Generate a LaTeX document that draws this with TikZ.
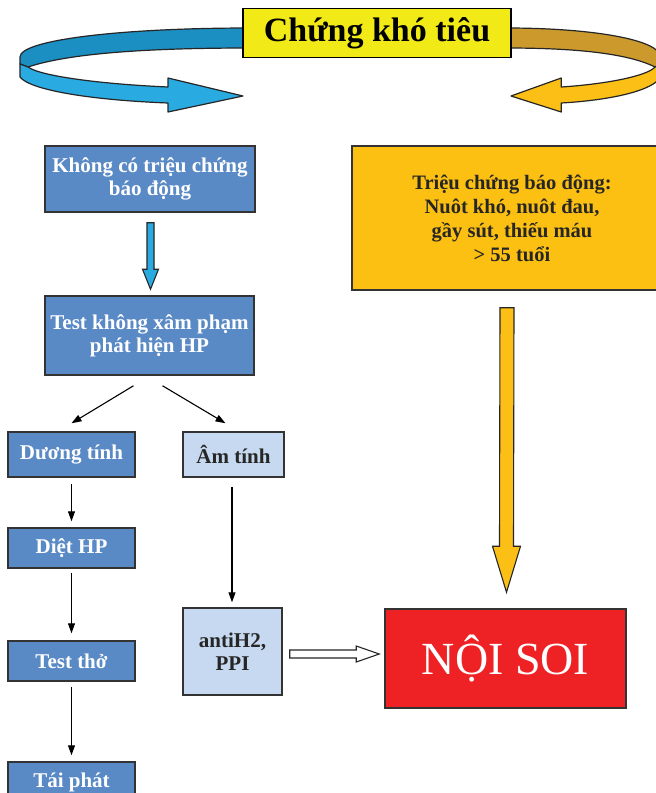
\documentclass[tikz,border=0pt]{standalone}
\usepackage{fontspec}
\setmainfont{Liberation Serif}
\usetikzlibrary{arrows.meta,positioning,calc}
\usepackage{xcolor}

\definecolor{boxblue}{HTML}{5A8AC6}
\definecolor{paleblue}{HTML}{C6D9F0}
\definecolor{alarmyellow}{HTML}{FCC012}
\definecolor{titleyellow}{HTML}{F2EA16}
\definecolor{ribbonblue}{HTML}{29ABE2}
\definecolor{ribbonbluedark}{HTML}{1B8EC2}
\definecolor{ribbongold}{HTML}{FBBF16}
\definecolor{ribbongolddark}{HTML}{CC9A2C}
\definecolor{soired}{HTML}{EE2224}
\definecolor{edgegray}{HTML}{333333}

\begin{document}
\begin{tikzpicture}[x=1pt,y=-1pt,
    stepbox/.style={draw=edgegray,line width=1.5pt,fill=boxblue,text=white,
      font=\bfseries\fontsize{21}{23}\selectfont,align=center,inner sep=0pt},
    palebox/.style={stepbox,fill=paleblue,text=black!85},
    thinarrow/.style={line width=1.1pt,-{Triangle[length=10pt,width=7pt]}},
    blockarrow/.style={draw=black!85,line width=1.1pt,line join=miter},
    ribbon/.style={draw=black!85,line width=1.2pt,line join=round}]
  \useasboundingbox (0,0) rectangle (656,793);

  % curved ribbons round the title
  \fill[white] (0,0) rectangle (656,793);
  \draw[ribbon,fill=ribbonbluedark] (250,28) .. controls (120,28) and (20,40) .. (20,57)
    -- (20,64) -- (28,67) .. controls (70,53) and (150,48) .. (250,48) -- cycle;
  \draw[ribbon,fill=ribbonblue] (20,64) -- (20,77) .. controls (30,90) and (90,100) .. (168,103)
    -- (168,112) -- (243,96) -- (168,78) -- (168,87)
    .. controls (100,84) and (40,76) .. (28,67) -- cycle;
  \begin{scope}[shift={(673.8,0)},xscale=-0.67]
    \draw[ribbon,fill=ribbongolddark] (250,28) .. controls (120,28) and (20,40) .. (20,57)
      -- (20,64) -- (28,67) .. controls (70,53) and (150,48) .. (250,48) -- cycle;
    \draw[ribbon,fill=ribbongold] (20,64) -- (20,77) .. controls (30,90) and (90,100) .. (168,103)
      -- (168,112) -- (243,96) -- (168,78) -- (168,87)
      .. controls (100,84) and (40,76) .. (28,67) -- cycle;
  \end{scope}

  \node[draw=black,line width=1.5pt,fill=titleyellow,minimum width=268pt,minimum height=49pt,
    font=\bfseries\fontsize{34}{36}\selectfont] (title) at (377,33) {Chứng khó tiêu};

  % left branch
  \node[stepbox,minimum width=210pt,minimum height=66pt] (nosign) at (150,179)
    {Không có triệu chứng\\báo động};
  \node[stepbox,minimum width=209pt,minimum height=79pt] (hptest) at (149.5,335.5)
    {Test không xâm phạm\\phát hiện HP};
  \node[stepbox,minimum width=127pt,minimum height=45pt] (pos) at (71.5,454.5) {Dương tính};
  \node[palebox,minimum width=101pt,minimum height=45pt] (neg) at (233.5,454.5) {Âm tính};
  \node[stepbox,minimum width=127pt,minimum height=40pt] (erad) at (71.5,548) {Diệt HP};
  \node[stepbox,minimum width=127pt,minimum height=40pt] (breath) at (71.5,661) {Test thở};
  \node[stepbox,minimum width=127pt,minimum height=40pt] (relapse) at (71.5,782) {Tái phát};
  \node[palebox,minimum width=99pt,minimum height=87pt] (drug) at (232.5,651.5) {antiH2,\\PPI};

  % right branch
  \node[stepbox,fill=alarmyellow,text=black!85,minimum width=320pt,minimum height=144pt,
    font=\bfseries\fontsize{20.5}{24}\selectfont] (alarm) at (512,218)
    {Triệu chứng báo động:\\Nuôt khó, nuôt đau,\\gầy sút, thiếu máu\\> 55 tuổi};
  \node[stepbox,fill=soired,minimum width=241pt,minimum height=99pt,
    font=\fontsize{46}{48}\selectfont] (scope) at (505.5,658.5) {NỘI SOI};

  % thin connectors
  \draw[thinarrow] ($(hptest.south)+(-16,10)$) -- ($(pos.north)+(0,-8)$);
  \draw[thinarrow] ($(hptest.south)+(13,10)$) -- ($(neg.north)+(-8,-8)$);
  \draw[thinarrow,shorten <=6pt,shorten >=6pt] (pos) -- (erad);
  \draw[thinarrow,shorten <=4pt,shorten >=7pt] (erad) -- (breath);
  \draw[thinarrow,shorten <=5pt,shorten >=6pt] (breath) -- (relapse);
  \draw[thinarrow,shorten <=9pt,shorten >=5pt] ($(neg.south)+(-1.5,0)$) -- ($(drug.north)+(-0.5,0)$);

  % block arrows
  \coordinate (bluetop) at ($(nosign.south)+(0.5,10)$);
  \coordinate (bluetip) at ($(hptest.north)+(1,-6)$);
  \draw[blockarrow,fill=ribbonblue] ($(bluetop)+(-3.5,0)$) -- ($(bluetop)+(3.5,0)$)
    -- ($(bluetip)+(3.5,-20)$) -- ($(bluetip)+(8,-20)$) -- (bluetip)
    -- ($(bluetip)+(-8,-20)$) -- ($(bluetip)+(-3.5,-20)$) -- cycle;

  \coordinate (goldtop) at ($(alarm.south -| scope.north)+(1.5,17)$);
  \coordinate (goldtip) at ($(scope.north)+(1,-16)$);
  \draw[blockarrow,fill=ribbongold] ($(goldtop)+(-7,0)$) -- ($(goldtop)+(7,0)$)
    -- ($(goldtip)+(7,-46)$) -- ($(goldtip)+(14,-46)$) -- (goldtip)
    -- ($(goldtip)+(-14,-46)$) -- ($(goldtip)+(-7,-46)$) -- cycle;

  \coordinate (hollowtail) at ($(drug.east)+(7,2.5)$);
  \coordinate (hollowtip) at ($(scope.west |- drug.east)+(-5,2.5)$);
  \draw[blockarrow,fill=white] ($(hollowtail)+(0,-4)$) -- ($(hollowtip)+(-23,-4)$)
    -- ($(hollowtip)+(-23,-8)$) -- (hollowtip) -- ($(hollowtip)+(-23,8)$)
    -- ($(hollowtip)+(-23,4)$) -- ($(hollowtail)+(0,4)$) -- cycle;
\end{tikzpicture}
\end{document}
